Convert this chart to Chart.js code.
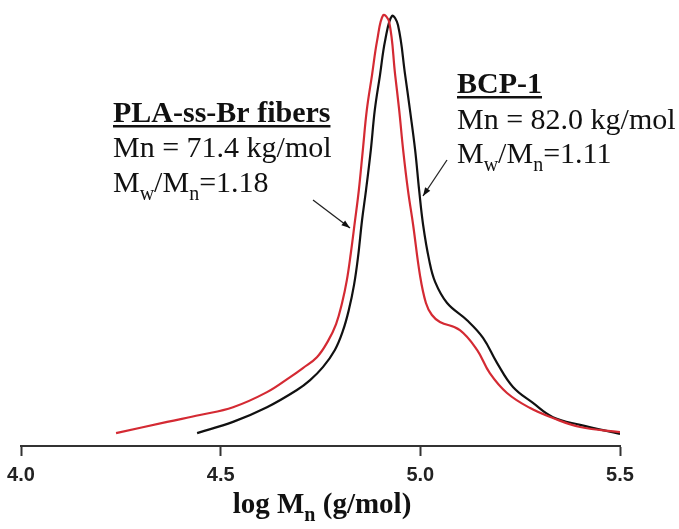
<!DOCTYPE html>
<html>
<head>
<meta charset="utf-8">
<script src="https://cdn.jsdelivr.net/npm/chart.js@4/dist/chart.umd.min.js"></script>
<style>
  html, body { margin: 0; padding: 0; background: #fff; }
  #wrap { width: 679px; height: 529px; }
</style>
</head>
<body>
<div id="wrap"><canvas id="myChart"></canvas></div>
<script>
// GPC traces (signal normalised to peak = 1)
const plaLogM = [4.238, 4.366, 4.448, 4.531, 4.616, 4.674, 4.706, 4.741, 4.769, 4.789, 4.804, 4.816, 4.826, 4.836, 4.846, 4.856, 4.866, 4.879, 4.892, 4.907, 4.922, 4.937, 4.947, 4.957, 4.969, 4.982, 4.999, 5.014, 5.029, 5.049, 5.099, 5.142, 5.174, 5.217, 5.275, 5.332, 5.400, 5.500];
const plaSignal = [0.030, 0.056, 0.072, 0.090, 0.125, 0.160, 0.181, 0.206, 0.244, 0.283, 0.332, 0.385, 0.448, 0.520, 0.594, 0.687, 0.780, 0.861, 0.942, 1.000, 0.984, 0.861, 0.780, 0.687, 0.594, 0.513, 0.397, 0.332, 0.304, 0.288, 0.269, 0.223, 0.169, 0.123, 0.088, 0.065, 0.044, 0.032];
const bcpLogM = [4.441, 4.531, 4.616, 4.691, 4.724, 4.756, 4.786, 4.806, 4.821, 4.834, 4.844, 4.854, 4.864, 4.876, 4.886, 4.899, 4.912, 4.929, 4.944, 4.962, 4.974, 4.987, 4.997, 5.007, 5.022, 5.037, 5.067, 5.117, 5.157, 5.192, 5.232, 5.282, 5.332, 5.400, 5.500];
const bcpSignal = [0.030, 0.056, 0.090, 0.130, 0.153, 0.183, 0.223, 0.267, 0.316, 0.374, 0.439, 0.524, 0.594, 0.687, 0.780, 0.861, 0.942, 0.998, 0.977, 0.861, 0.780, 0.687, 0.594, 0.513, 0.432, 0.381, 0.332, 0.292, 0.251, 0.193, 0.137, 0.100, 0.067, 0.049, 0.028];
const tickValues = [4.0, 4.5, 5.0, 5.5];

function toPoints(xs, ys) {
  return xs.map((x, i) => ({ x: x, y: ys[i] }));
}

// draw text made of normal and subscript parts
function drawRich(ctx, parts, x, y, size, bold) {
  let cx = x;
  const b = bold ? "bold " : "";
  parts.forEach((p) => {
    if (p.sub) {
      ctx.font = b + Math.round(size * 0.68) + "px 'Liberation Serif'";
      ctx.fillText(p.t, cx, y + size * 0.27);
    } else {
      ctx.font = b + size + "px 'Liberation Serif'";
      ctx.fillText(p.t, cx, y);
    }
    cx += ctx.measureText(p.t).width;
  });
  return cx - x;
}

function measureRich(ctx, parts, size, bold) {
  const b = bold ? "bold " : "";
  let w = 0;
  parts.forEach((p) => {
    ctx.font = b + (p.sub ? Math.round(size * 0.68) : size) + "px 'Liberation Serif'";
    w += ctx.measureText(p.t).width;
  });
  return w;
}

function arrow(ctx, x1, y1, x2, y2) {
  ctx.beginPath();
  ctx.moveTo(x1, y1);
  ctx.lineTo(x2, y2);
  ctx.stroke();
  const a = Math.atan2(y2 - y1, x2 - x1);
  ctx.beginPath();
  ctx.moveTo(x2, y2);
  ctx.lineTo(x2 - 9 * Math.cos(a - 0.35), y2 - 9 * Math.sin(a - 0.35));
  ctx.lineTo(x2 - 9 * Math.cos(a + 0.35), y2 - 9 * Math.sin(a + 0.35));
  ctx.closePath();
  ctx.fill();
}

const notes = {
  id: "notes",
  afterDraw(chart) {
    const ctx = chart.ctx;
    ctx.save();
    ctx.fillStyle = "#111";
    ctx.strokeStyle = "#222";
    ctx.textBaseline = "alphabetic";
    ctx.textAlign = "left";

    // PLA block
    ctx.font = "bold 30px 'Liberation Serif'";
    let w = ctx.measureText("PLA-ss-Br fibers").width;
    ctx.fillText("PLA-ss-Br fibers", 113, 122);
    ctx.fillRect(113, 125, w, 2.5);
    drawRich(ctx, [{ t: "Mn = 71.4 kg/mol" }], 113, 157, 30);
    drawRich(ctx, [{ t: "M" }, { t: "w", sub: true }, { t: "/M" }, { t: "n", sub: true }, { t: "=1.18" }], 113, 192, 30);

    // BCP block
    ctx.font = "bold 30px 'Liberation Serif'";
    w = ctx.measureText("BCP-1").width;
    ctx.fillText("BCP-1", 457, 93);
    ctx.fillRect(457, 96, w, 2.5);
    drawRich(ctx, [{ t: "Mn = 82.0 kg/mol" }], 457, 129, 30);
    drawRich(ctx, [{ t: "M" }, { t: "w", sub: true }, { t: "/M" }, { t: "n", sub: true }, { t: "=1.11" }], 457, 163, 30);

    ctx.lineWidth = 1.3;
    arrow(ctx, 313, 200, 350, 228);
    arrow(ctx, 447, 160, 423, 196);

    // x-axis title
    const title = [{ t: "log M" }, { t: "n", sub: true }, { t: " (g/mol)" }];
    const tw = measureRich(ctx, title, 29, true);
    drawRich(ctx, title, 322 - tw / 2, 513, 29, true);
    ctx.restore();
  },
};

const ctx = document.getElementById("myChart").getContext("2d");
const myChart = new Chart(ctx, {
  type: "line",
  data: {
    datasets: [
      {
        label: "PLA-ss-Br fibers",
        data: toPoints(plaLogM, plaSignal),
        borderColor: "#d42a33",
        borderWidth: 2.2,
        pointRadius: 0,
        tension: 0.4,
      },
      {
        label: "BCP-1",
        data: toPoints(bcpLogM, bcpSignal),
        borderColor: "#111111",
        borderWidth: 2.2,
        pointRadius: 0,
        tension: 0.4,
      },
    ],
  },
  options: {
    responsive: true,
    maintainAspectRatio: false,
    animation: false,
    layout: { padding: { left: 21, right: 59, top: 10, bottom: 0 } },
    plugins: { legend: { display: false }, tooltip: { enabled: false } },
    scales: {
      x: {
        type: "linear",
        min: 4.0,
        max: 5.5,
        afterBuildTicks: (s) => {
          s.ticks = tickValues.map((v) => ({ value: v }));
        },
        afterFit: (s) => {
          s.height = 83;
        },
        border: { display: true, color: "#333", width: 2 },
        grid: { drawOnChartArea: false, drawTicks: true, tickLength: 10, tickColor: "#333", tickWidth: 2 },
        ticks: {
          color: "#222",
          padding: 7,
          maxRotation: 0,
          font: { family: "'Liberation Sans'", size: 20, weight: "bold" },
          callback: (v) => v.toFixed(1),
        },
      },
      y: { display: false, min: 0, max: 1.012 },
    },
  },
  plugins: [notes],
});
</script>
</body>
</html>
